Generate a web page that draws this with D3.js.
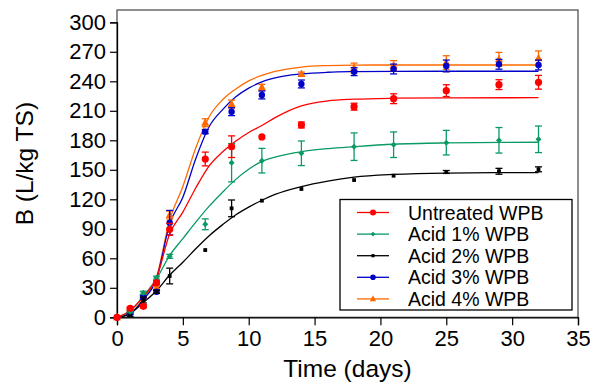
<!DOCTYPE html>
<html><head><meta charset="utf-8">
<script src="https://cdn.jsdelivr.net/npm/d3@7"></script>
<style>
html,body{margin:0;padding:0;background:#fff;}
svg{display:block;font-family:"Liberation Sans",Arial,sans-serif;}
</style></head>
<body>
<svg id="chart" width="590" height="389"></svg>
<script>
// ---- data ----
const seriesNames = ["Untreated WPB","Acid 1% WPB","Acid 2% WPB","Acid 3% WPB","Acid 4% WPB"];
const seriesColors = ["#ff0000","#0a9a64","#000000","#0000c8","#ff6a00"];
const seriesShapes = ["circle","diamond","square","circle","triangle"];

const days = [0,1,2,3,4,6.7,8.7,11,14,18,21,25,29,32];
const untreated = [0,9.1,11.2,35.2,89.5,161,173.5,183.4,195.6,214.2,222.3,230.5,236.6,239];
const acid1 = [0,5.7,25,40.3,62,94.6,157.2,159.3,166.8,173.5,175.5,177.6,180,181];
const acid2 = [0,3,17.6,26,42,68.4,110.8,118.6,130.5,139.6,144,147.8,148.5,150.5];
const acid3 = [0,4,20.3,26,96.2,188.8,209.1,226.1,237.3,249.8,252.5,255.6,257.3,256.6];
const acid4 = [0,8,21,30,104,197.9,216.9,233.9,247.4,253.5,256,259,262.4,263.4];

const errUntreated = [0,1.5,1.5,2,6,7,11,0,3,3.5,5,6,5,7];
const errAcid1 = [0,1,1.5,1.5,2,5.5,19.5,12.5,12.5,14,13,12.5,13,13.5];
const errAcid2 = [0,2,3,1.5,8,0,8.5,0,0,0,0,1.5,3,2.5];
const errAcid3 = [0,1,2,1.5,12.5,2,4,4,4,4,5,6,5,5];
const errAcid4 = [0,1,1.5,1.5,4,4,4,3,2,5,5,7,7,7.5];

// fitted curves
const fitDays = [0,1,2,3,4,5,6,7,8,9,10,11,12,14,16,18,21,25,32];
const fitUntreated = [0,7,21,40,85,107,132,154,168,179,188,195,203,215,220,221.8,222.8,223.2,223.3];
const fitAcid1 = [0,6.5,21.5,39,63,80,97,113,127,140,150.5,158.5,163,168.4,171.5,173.5,176,177.3,178];
const fitAcid2 = [0,4,15,27,43,56,70,83,94,104,112,119,125,133,138.5,142.5,145.3,146.7,147.2];
const fitAcid3 = [0,3.5,18,39,95,122,162,194,211,224,233,239.5,243.5,247.5,249.2,249.8,250.1,250.2,250.2];
const fitAcid4 = [0,4,19,41,99,133,173,204,221,232,240.5,246,250,254.5,256,256.5,256.6,256.6,256.6];

const xTicks = [0,5,10,15,20,25,30,35];
const yTicks = [0,30,60,90,120,150,180,210,240,270,300];
const xTitle = "Time (days)";
const yTitle = "B (L/kg TS)";

// ---- build ----
const values = [untreated, acid1, acid2, acid3, acid4];
const errors = [errUntreated, errAcid1, errAcid2, errAcid3, errAcid4];
const fits = [fitUntreated, fitAcid1, fitAcid2, fitAcid3, fitAcid4];

const svg = d3.select("#chart");
const L = 117, R = 578, T = 10, B = 317.3;
const x = d3.scaleLinear().domain([0,35]).range([L, R]);
const y = d3.scaleLinear().domain([0,300]).range([B, 22.3]);

// frame
svg.append("rect").attr("x",L).attr("y",T).attr("width",R-L).attr("height",B-T)
  .attr("fill","none").attr("stroke","#444").attr("stroke-width",1.2);

// axes
const xAxis = svg.append("g").attr("transform",`translate(0,${B})`)
  .call(d3.axisBottom(x).tickValues(xTicks).tickSize(8).tickPadding(4).tickFormat(d3.format("d")));
const yAxis = svg.append("g").attr("transform",`translate(${L},0)`)
  .call(d3.axisLeft(y).tickValues(yTicks).tickSize(7).tickPadding(4).tickFormat(d3.format("d")));
[xAxis,yAxis].forEach(g=>{
  g.select(".domain").attr("stroke","#000").attr("stroke-width",1.3);
  g.selectAll(".tick line").attr("stroke","#000").attr("stroke-width",1.2);
  g.selectAll(".tick text").attr("font-size","22px").attr("fill","#000")
   .attr("font-family","'Liberation Sans',Arial,sans-serif");
});
xAxis.selectAll(".tick text").attr("dy","0.78em");

// titles
svg.append("text").attr("x",(L+R)/2).attr("y",377).attr("text-anchor","middle")
  .attr("font-size","24.5px").text(xTitle);
svg.append("text").attr("transform",`translate(33,${(T+B)/2}) rotate(-90)`)
  .attr("text-anchor","middle").attr("font-size","24.5px").text(yTitle);

// fitted curves
const line = d3.line().x(d=>x(d[0])).y(d=>y(d[1])).curve(d3.curveMonotoneX);
const order = [4,3,2,1,0];
order.forEach(i=>{
  svg.append("path").datum(fitDays.map((t,k)=>[t,fits[i][k]]))
    .attr("d",line).attr("fill","none").attr("stroke",seriesColors[i]).attr("stroke-width",1.3);
});

function marker(g, shape, color, cx, cy, s) {
  if (shape==="circle") g.append("circle").attr("cx",cx).attr("cy",cy).attr("r",s).attr("fill",color);
  else if (shape==="diamond") g.append("path").attr("d",`M${cx},${cy-s}L${cx+s},${cy}L${cx},${cy+s}L${cx-s},${cy}Z`).attr("fill",color);
  else if (shape==="square") g.append("rect").attr("x",cx-s).attr("y",cy-s).attr("width",2*s).attr("height",2*s).attr("fill",color);
  else if (shape==="triangle") g.append("path").attr("d",`M${cx},${cy-s*1.15}L${cx+s},${cy+s*0.75}L${cx-s},${cy+s*0.75}Z`).attr("fill",color);
}
const sizes = [3.6,3.0,1.9,3.2,4.0];

// error bars and markers
order.forEach(i=>{
  const g = svg.append("g");
  days.forEach((t,k)=>{
    const e = errors[i][k];
    if (e>0) {
      const cx = x(t), y1 = y(values[i][k]+e), y2 = y(values[i][k]-e);
      g.append("line").attr("x1",cx).attr("x2",cx).attr("y1",y1).attr("y2",y2).attr("stroke",seriesColors[i]).attr("stroke-width",1.3);
      [y1,y2].forEach(yy=>g.append("line").attr("x1",cx-3.5).attr("x2",cx+3.5).attr("y1",yy).attr("y2",yy).attr("stroke",seriesColors[i]).attr("stroke-width",1.3));
    }
  });
  days.forEach((t,k)=>marker(g, seriesShapes[i], seriesColors[i], x(t), y(values[i][k]), sizes[i]));
});

// legend
const lg = svg.append("g");
lg.append("rect").attr("x",340).attr("y",199.5).attr("width",232).attr("height",110.5)
  .attr("fill","#fff").attr("stroke","#000").attr("stroke-width",1.3);
seriesNames.forEach((name,i)=>{
  const yy = 212.5 + i*21.6;
  lg.append("line").attr("x1",357).attr("x2",389).attr("y1",yy).attr("y2",yy).attr("stroke",seriesColors[i]).attr("stroke-width",1.3);
  marker(lg, seriesShapes[i], seriesColors[i], 373, yy, [3,2.4,1.6,2.8,3.2][i]);
  lg.append("text").attr("x",408).attr("y",yy).attr("dy","0.36em").attr("font-size","19.5px").text(name);
});
</script>
</body></html>
